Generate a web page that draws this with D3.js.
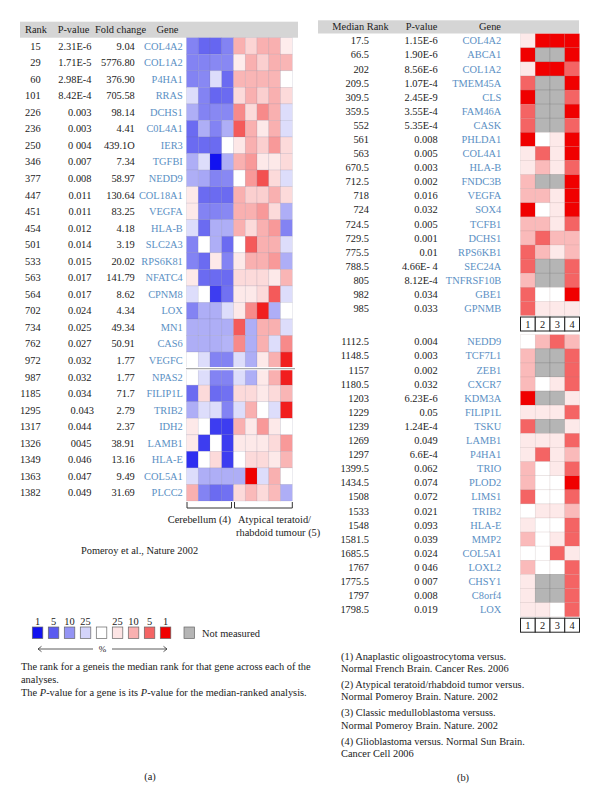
<!DOCTYPE html>
<html><head><meta charset="utf-8">
<script src="https://cdn.jsdelivr.net/npm/d3@7"></script>
<style>html,body{margin:0;padding:0;background:#fff;}svg{display:block;}</style>
</head><body>
<svg id="chart" width="600" height="803"></svg>
<script>
// ---------------- DATA ----------------
const leftRanks = ["15","29","60","101","226","236","250","346","377","447","451","454","501","533","563","564","702","734","762","972","987","1185","1295","1317","1326","1349","1363","1382"];
const leftPvals = ["2.31E-6","1.71E-5","2.98E-4","8.42E-4","0.003","0.003","0 004","0.007","0.008","0.011","0.011","0.012","0.014","0.015","0.017","0.017","0.024","0.025","0.027","0.032","0.032","0.034","0.043","0.044","0045","0.046","0.047","0.049"];
const leftFolds = ["9.04","5776.80","376.90","705.58","98.14","4.41","439.1O","7.34","58.97","130.64","83.25","4.18","3.19","20.02","141.79","8.62","4.34","49.34","50.91","1.77","1.77","71.7","2.79","2.37","38.91","13.16","9.49","31.69"];
const leftGenes = ["COL4A2","COL1A2","P4HA1","RRAS","DCHS1","C0L4A1","IER3","TGFBI","NEDD9","COL18A1","VEGFA","HLA-B","SLC2A3","RPS6K81","NFATC4","CPNM8","LOX","MN1","CAS6","VEGFC","NPAS2","FILIP1L","TRIB2","IDH2","LAMB1","HLA-E","COL5A1","PLCC2"];
// signed percentile level per sample: negative = under-expressed (blue), positive = over-expressed (red)
const leftValues = [
 [-2.3,-2.8,-2.8,-2.3, 2,1.3,2,2,0.7],
 [-2.3,-2.3,-2.2,-2.2, 0.7,2,1.4,2,1.9],
 [-2.3,-2.2,-0.8,-2.7, 1.9,1.9,1.9,1.9,0],
 [-0.8,-2.3,-2.8,-2.7, 1.2,2,1.4,2,1.2],
 [-1.6,-2.3,-2.2,-2.2, 2.5,1.2,2.5,2,-0.8],
 [-2.7,-1.6,-2.3,-1.6, 3.1,2,0.8,2,-0.8],
 [-2.7,-2.7,-2.7,0, 0.9,2,1.4,2.3,1.2],
 [-1.6,-0.8,-4,-1.6, 2,2.3,0.8,0.8,1.2],
 [-1.6,-1.7,-2.3,-2.2, 0,2.3,3.2,1.2,-0.8],
 [0.8,-2.7,-2.7,-2.7, 2,1.4,1.4,2,1.2],
 [0.8,-2.3,-2.3,-2.2, 2,2,2.3,1.2,-1.6],
 [-0.8,-2.7,-1.6,-1.6, 2,1.2,2,2.3,-2.3],
 [-2.3,0,-1.6,-2.7, 0,3.1,2,2,-0.8],
 [-2.3,-2.7,0.8,-2.3, 0.8,2,2,2.3,-1.6],
 [0.8,-2.7,-2.7,-2.7, 1.2,1.2,1.2,0.8,1.9],
 [-0.8,0,-3.4,-2.6, 0.8,0.8,1.2,3.1,-0.8],
 [-2.3,-1.6,-1.6,-0.8, 0.8,2.5,3.7,-1.6,0],
 [-1.6,-1.6,-1.6,-1.6, 3.1,-1.6,2,2,-0.8],
 [-1.6,-1.6,-1.6,-1.5, 2.5,-1.6,2,-0.8,2.5],
 [0,-0.8,-2.3,-2.3, -0.8,-1.6,0.8,2,3.7],
 [0,-0.8,-2.3,-2.3, -0.8,-1.6,0.8,2,3.7],
 [-2.7,1.2,-2.7,-2.6, 1.2,1.2,0.8,1.2,1.9],
 [-1.6,-0.8,-0.8,-2.3, -0.8,2,0,-0.8,3.7],
 [0.8,0,-3.4,-3.4, 2,0.8,2.3,0.8,0],
 [0.8,-3.4,0,-3.4, 0.8,0.8,0.8,1.2,2.3],
 [-3.6,0,1.2,-3.4, 0,1.2,1.2,0.8,1.9],
 [-0.8,-1.6,-1.6,-1.6, -1.6,4,-0.8,2,0],
 [2,-2.3,-2.7,-2.6, 1.2,1.8,1.2,1.8,-1.6]
];
const leftGroups = ["Cerebellum (4)", "Atypical teratoid/", "rhabdoid tumour (5)"];

const rightRanks1 = ["17.5","66.5","202","209.5","309.5","359.5","552","561","563","670.5","712.5","718","724","724.5","729.5","775.5","788.5","805","982","985"];
const rightPvals1 = ["1.15E-6","1.90E-6","8.56E-6","1.07E-4","2.45E-9","3.55E-4","5.35E-4","0.008","0.005","0.003","0.002","0.016","0.032","0.005","0.001","0.01","4.66E- 4","8.12E-4","0.034","0.033"];
const rightGenes1 = ["COL4A2","ABCA1","COL1A2","TMEM45A","CLS","FAM46A","CASK","PHLDA1","COL4A1","HLA-B","FNDC3B","VEGFA","SOX4","TCFB1","DCHS1","RPS6KB1","SEC24A","TNFRSF10B","GBE1","GPNMB"];
const rightValues1 = [
 [0.8,4,4,4],[4,null,null,4],[0.8,4,4,3],[3,null,null,4],[4,null,null,3],
 [3,null,null,4],[3,null,null,3],[4,0,0.8,4],[0.8,3,0.8,4],[0.8,1.8,0.8,3],
 [1.8,null,null,4],[1.8,1.8,0.8,4],[4,0,0.8,4],[1.8,1.8,0.8,3],[1.8,3,1.8,1.8],
 [3,1.8,0.8,1.8],[3,null,null,3],[1.8,null,null,3],[3,0,0,4],[3,0.8,0.8,0.8]
];
const rightRanks2 = ["1112.5","1148.5","1157","1180.5","1203","1229","1239","1269","1297","1399.5","1434.5","1508","1533","1548","1581.5","1685.5","1767","1775.5","1797","1798.5"];
const rightPvals2 = ["0.004","0.003","0.002","0.032","6.23E-6","0.05","1.24E-4","0.049","6.6E-4","0.062","0.074","0.072","0.021","0.093","0.039","0.024","0 046","0 007","0.008","0.019"];
const rightGenes2 = ["NEDD9","TCF7L1","ZEB1","CXCR7","KDM3A","FILIP1L","TSKU","LAMB1","P4HA1","TRIO","PLOD2","LIMS1","TRIB2","HLA-E","MMP2","COL5A1","LOXL2","CHSY1","C8orf4","LOX"];
const rightValues2 = [
 [0,1.8,3,1.8],[1.8,null,null,3],[1.8,null,null,3],[1.8,0,0.8,3],[4,null,null,0.8],
 [0.8,0.8,0.8,3],[3,null,null,0.8],[0.8,0.8,0.8,3],[0.8,3,0.8,1.8],[1.8,0,0.8,3],
 [1.8,0,0,4],[3,0,0,3],[0,0.8,0.8,1.8],[0.8,0,0,3],[1.8,0,0.8,3],
 [0,0,3,0.8],[1.8,0,0,3],[0.8,null,null,3],[0.8,null,null,3],[0.8,0.8,0,3]
];
const datasetLabels = ["1","2","3","4"];
const footnotes = [
 "(1) Anaplastic oligoastrocytoma versus.", "Normal French Brain. Cancer Res. 2006",
 "(2) Atypical teratoid/rhabdoid tumor versus.", "Normal Pomeroy Brain. Nature. 2002",
 "(3) Classic medulloblastoma versuss.", "Normal Pomeroy Brain. Nature. 2002",
 "(4) Glioblastoma versus. Normal Sun Brain.", "Cancer Cell 2006"
];
const legendLevels = [-4,-3,-2,-1,0,1,2,3,4];
const legendLabels = ["1","5","10","25","","25","10","5","1"];

// ---------------- STYLE ----------------
const FONT = "'Liberation Serif','Times New Roman',serif";
const FS = 10.4;
const GENE_COLOR = "#5b90c4";
const GRAY = "#b5b5b5";
const color = d3.scaleLinear()
  .domain([-4,-3,-2,-1,0,1,2,3,4])
  .range(["#1212f0","#5a5af0","#9494f4","#d4d4fa","#ffffff","#fde4e4","#f9b0b0","#f46464","#f00000"])
  .interpolate(d3.interpolateRgb);
const fill = v => v === null ? GRAY : color(v);

const svg = d3.select("#chart").style("font-family", FONT).style("font-size", FS + "px");

// ---------------- LEFT PANEL ----------------
const L = svg.append("g");
L.append("rect").attr("x", 20).attr("y", 21.7).attr("width", 278).attr("height", 16).attr("fill", "#d5d5d5");
const lhY = 29.7;
[["Rank",36,"middle"],["P-value",73.5,"middle"],["Fold change",120.5,"middle"],["Gene",167.5,"middle"]].forEach(h=>{
  L.append("text").attr("x",h[1]).attr("y",lhY).attr("dy","0.35em").attr("text-anchor",h[2]).attr("fill","#222").text(h[0]);
});
const lx = d3.scaleBand().domain(d3.range(9)).range([186.5, 292.3]);
const ly = d3.scaleBand().domain(d3.range(leftRanks.length)).range([37.7, 501]);
const lrow = L.selectAll("g.lrow").data(leftRanks).join("g").attr("class","lrow");
const cy = i => ly(i) + ly.bandwidth()/2;
L.selectAll("text.lr").data(leftRanks).join("text").attr("x",40.7).attr("y",(d,i)=>cy(i)).attr("dy","0.35em").attr("text-anchor","end").attr("fill","#222").text(d=>d);
L.selectAll("text.lp").data(leftPvals).join("text").attr("x",(d,i)=> d==="0.043"?94:91.5).attr("y",(d,i)=>cy(i)).attr("dy","0.35em").attr("text-anchor","end").attr("fill","#222").text(d=>d);
L.selectAll("text.lf").data(leftFolds).join("text").attr("x",134.8).attr("y",(d,i)=>cy(i)).attr("dy","0.35em").attr("text-anchor","end").attr("fill","#222").text(d=>d);
L.selectAll("text.lg").data(leftGenes).join("text").attr("x",182.8).attr("y",(d,i)=>cy(i)).attr("dy","0.35em").attr("text-anchor","end").attr("fill",GENE_COLOR).text(d=>d);
leftValues.forEach((row,i)=>{
  L.selectAll(null).data(row).join("rect")
    .attr("x",(d,j)=>lx(j)).attr("y",ly(i)).attr("width",lx.bandwidth()).attr("height",ly.bandwidth())
    .attr("fill",fill).attr("stroke","rgba(110,110,140,0.22)").attr("stroke-width",0.6);
});
// separator between rows 19 and 20
const sepY = ly(20);
L.append("rect").attr("x",186).attr("y",sepY-1.6).attr("width",109).attr("height",3.2).attr("fill","#fff");
L.append("line").attr("x1",186).attr("x2",295).attr("y1",sepY).attr("y2",sepY).attr("stroke","#aaa").attr("stroke-width",1.4);
// brackets
const bTop = 502, bBot = 508;
[[lx(0)+0.5, lx(4)-2],[lx(4)+1, lx(8)+lx.bandwidth()]].forEach(b=>{
  L.append("path").attr("d",`M${b[0]},${bTop}V${bBot}H${b[1]}V${bTop}`).attr("fill","none").attr("stroke","#333").attr("stroke-width",1);
});
L.append("text").attr("x",231).attr("y",519).attr("dy","0.35em").attr("text-anchor","end").attr("fill","#222").text(leftGroups[0]);
L.append("text").attr("x",238).attr("y",519).attr("dy","0.35em").attr("fill","#222").text(leftGroups[1]);
L.append("text").attr("x",236).attr("y",532).attr("dy","0.35em").attr("fill","#222").text(leftGroups[2]);
L.append("text").attr("x",139.5).attr("y",550).attr("dy","0.35em").attr("text-anchor","middle").attr("fill","#222").text("Pomeroy et al., Nature 2002");

// legend
const legX = d3.scaleBand().domain(d3.range(legendLevels.length)).range([32.3, 32.3+16*9]).paddingInner(0.34).paddingOuter(0);
L.selectAll("rect.leg").data(legendLevels).join("rect").attr("class","leg")
  .attr("x",(d,i)=>32.3+16*i).attr("y",627).attr("width",10.5).attr("height",11.5)
  .attr("fill",d=>color(d)).attr("stroke","#666").attr("stroke-width",0.7);
L.selectAll("text.legl").data(legendLabels).join("text").attr("class","legl")
  .attr("x",(d,i)=>32.3+16*i+5.25).attr("y",621.5).attr("dy","0.35em").attr("text-anchor","middle").attr("fill","#222").text(d=>d);
L.append("rect").attr("x",184).attr("y",627).attr("width",10.5).attr("height",11.5).attr("fill",GRAY).attr("stroke","#666").attr("stroke-width",0.7);
L.append("text").attr("x",202).attr("y",633).attr("dy","0.35em").attr("fill","#222").text("Not measured");
L.append("path").attr("d","M38,649H93M41.5,646.3L38,649L41.5,651.7").attr("fill","none").attr("stroke","#333").attr("stroke-width",0.8);
L.append("path").attr("d","M112,649H167M163.5,646.3L167,649L163.5,651.7").attr("fill","none").attr("stroke","#333").attr("stroke-width",0.8);
L.append("text").attr("x",102.5).attr("y",649).attr("dy","0.35em").attr("text-anchor","middle").attr("fill","#222").style("font-size","9px").text("%");

const d1 = L.append("text").attr("x",21).attr("y",666).attr("dy","0.35em").attr("fill","#222");
d1.text("The rank for a geneis the median rank for that gene across each of the");
L.append("text").attr("x",21).attr("y",679).attr("dy","0.35em").attr("fill","#222").text("analyses.");
const d3t = L.append("text").attr("x",21).attr("y",692).attr("dy","0.35em").attr("fill","#222");
d3t.append("tspan").text("The ");
d3t.append("tspan").attr("font-style","italic").text("P");
d3t.append("tspan").text("-value for a gene is its ");
d3t.append("tspan").attr("font-style","italic").text("P");
d3t.append("tspan").text("-value for the median-ranked analysis.");
L.append("text").attr("x",150).attr("y",776).attr("dy","0.35em").attr("text-anchor","middle").attr("fill","#222").text("(a)");

// ---------------- RIGHT PANEL ----------------
const R = svg.append("g");
R.append("rect").attr("x",318).attr("y",20.3).attr("width",261).attr("height",13.2).attr("fill","#d5d5d5");
[["Median Rank",360.5],["P-value",421.5],["Gene",490]].forEach(h=>{
  R.append("text").attr("x",h[1]).attr("y",26.8).attr("dy","0.35em").attr("text-anchor","middle").attr("fill","#222").text(h[0]);
});
const rx = d3.scaleBand().domain(d3.range(4)).range([520.5, 579.5]);
function rightGroup(ranks, pvals, genes, values, y0, y1) {
  const y = d3.scaleBand().domain(d3.range(ranks.length)).range([y0, y1]);
  const c = i => y(i) + y.bandwidth()/2;
  const g = R.append("g");
  g.selectAll("text.rr").data(ranks).join("text").attr("x",369).attr("y",(d,i)=>c(i)).attr("dy","0.35em").attr("text-anchor","end").attr("fill","#222").text(d=>d);
  g.selectAll("text.rp").data(pvals).join("text").attr("x",437.7).attr("y",(d,i)=>c(i)).attr("dy","0.35em").attr("text-anchor","end").attr("fill","#222").text(d=>d);
  g.selectAll("text.rg").data(genes).join("text").attr("x",501.3).attr("y",(d,i)=>c(i)).attr("dy","0.35em").attr("text-anchor","end").attr("fill",GENE_COLOR).text(d=>d);
  values.forEach((row,i)=>{
    g.selectAll(null).data(row).join("rect")
      .attr("x",(d,j)=>rx(j)).attr("y",y(i)).attr("width",rx.bandwidth()).attr("height",y.bandwidth())
      .attr("fill",fill).attr("stroke",d=>d===null?"rgba(120,120,120,0.5)":"rgba(150,120,120,0.2)").attr("stroke-width",0.6);
  });
  // dataset number box
  const by = y1 + 1.5, bh = 14;
  g.selectAll("rect.nb").data(datasetLabels).join("rect")
    .attr("x",(d,j)=>rx(j)).attr("y",by).attr("width",rx.bandwidth()).attr("height",bh)
    .attr("fill","#fff").attr("stroke","#222").attr("stroke-width",1);
  g.selectAll("text.nb").data(datasetLabels).join("text")
    .attr("x",(d,j)=>rx(j)+rx.bandwidth()/2).attr("y",by+bh/2).attr("dy","0.35em").attr("text-anchor","middle").attr("fill","#222").text(d=>d);
}
rightGroup(rightRanks1, rightPvals1, rightGenes1, rightValues1, 33.7, 315.5);
rightGroup(rightRanks2, rightPvals2, rightGenes2, rightValues2, 334.7, 616.7);

const fy = [656, 668.7, 684.7, 696.7, 712.7, 725.3, 741.3, 753.3];
R.selectAll("text.fn").data(footnotes).join("text")
  .attr("x",341).attr("y",(d,i)=>fy[i]).attr("dy","0.35em").attr("fill","#222").text(d=>d);
R.append("text").attr("x",463).attr("y",777).attr("dy","0.35em").attr("text-anchor","middle").attr("fill","#222").text("(b)");
</script>
</body></html>
